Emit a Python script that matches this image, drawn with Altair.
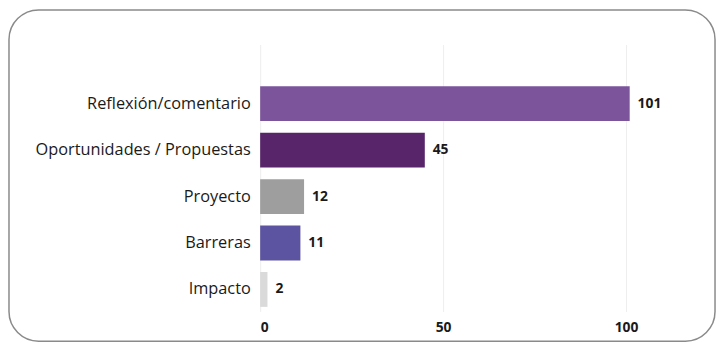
import altair as alt
import pandas as pd

categories = ["Reflexión/comentario", "Oportunidades / Propuestas", "Proyecto", "Barreras", "Impacto"]
values = [101, 45, 12, 11, 2]
colors = ["#7B549B", "#58246A", "#9E9E9E", "#5C54A0", "#DADADA"]
x_ticks = [0, 50, 100]

df = pd.DataFrame({"cat": categories, "val": values, "color": colors})

FONT = "Open Sans"

y_enc = alt.Y("cat:N", sort=categories, title=None,
              scale=alt.Scale(paddingInner=0.25, paddingOuter=0.5, align=0.9),
              axis=alt.Axis(domain=False, ticks=False, grid=False, labelPadding=10,
                            labelFontSize=16.5, labelColor="#1A1A1A", labelFont=FONT,
                            labelLimit=300))
x_enc = alt.X("val:Q", title=None,
              scale=alt.Scale(domain=[0, 110], nice=False),
              axis=alt.Axis(values=x_ticks, domain=False, ticks=False, grid=True,
                            gridColor="#EEEEEE", labelPadding=9, labelFontSize=14,
                            labelFontWeight="bold", labelColor="#1A1A1A", labelFont=FONT))

border = alt.Chart(alt.Data(values=[{}])).mark_rect(
    fill="transparent", stroke="#8A8A8A", strokeWidth=1.5, cornerRadius=30
).encode(x=alt.value(-254), x2=alt.value(460), y=alt.value(-35), y2=alt.value(300))

bars = alt.Chart(df).mark_bar().encode(
    y=y_enc, x=x_enc, color=alt.Color("color:N", scale=None)
)

labels = alt.Chart(df).mark_text(
    align="left", baseline="middle", dx=8, fontSize=14, fontWeight="bold",
    color="#1A1A1A", font=FONT
).encode(y=alt.Y("cat:N", sort=categories), x="val:Q", text="val:Q")

chart = alt.layer(border, bars, labels).properties(
    width=407, height=270,
    autosize=alt.AutoSizeParams(type="none"),
    padding={"left": 255, "top": 35, "right": 55, "bottom": 35},
).configure_view(stroke=None)

chart.save("out.html", embed_options={"renderer": "svg", "actions": False})
